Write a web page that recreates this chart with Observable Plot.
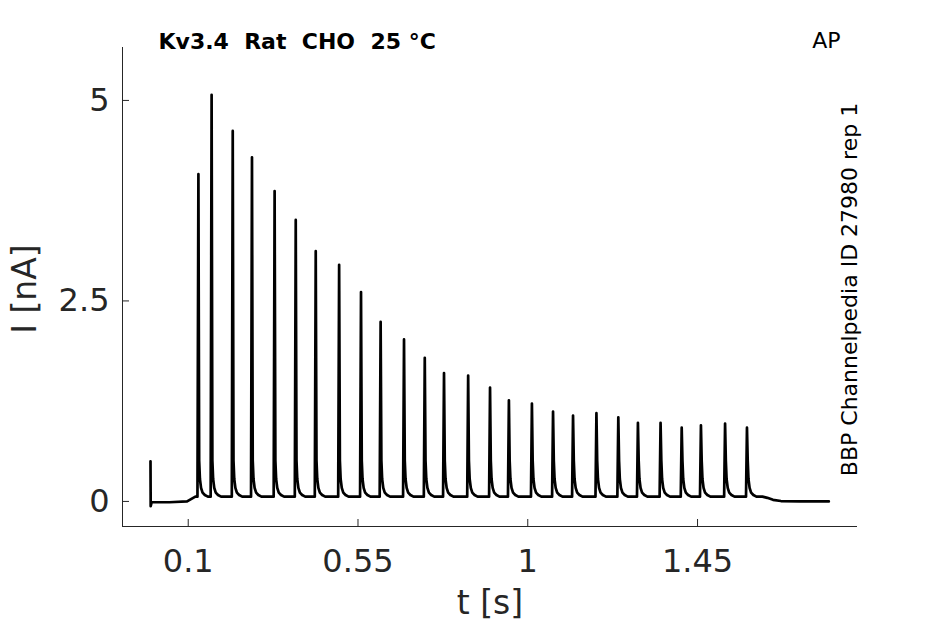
<!DOCTYPE html>
<html>
<head>
<meta charset="utf-8">
<script src="https://cdn.jsdelivr.net/npm/d3@7"></script>
<script src="https://cdn.jsdelivr.net/npm/@observablehq/plot@0.6"></script>
<style>
  html, body { margin: 0; padding: 0; background: #fff; }
  #chart { width: 945px; height: 624px; }
</style>
</head>
<body>
<div id="chart"></div>
<script>
// ---- data ----
const spikeT = [0.127, 0.162, 0.218, 0.269, 0.329, 0.385, 0.438, 0.500, 0.558, 0.610,
                0.672, 0.727, 0.778, 0.842, 0.900, 0.950, 1.011, 1.067, 1.120, 1.182,
                1.240, 1.292, 1.352, 1.408, 1.459, 1.523, 1.581];
const spikePeak = [4.08, 5.07, 4.62, 4.29, 3.87, 3.51, 3.12, 2.95, 2.61, 2.24,
                   2.02, 1.79, 1.60, 1.57, 1.42, 1.26, 1.22, 1.12, 1.07, 1.10,
                   1.05, 0.98, 0.98, 0.92, 0.95, 0.97, 0.92];
const trainBaseline = 0.06;
// decay tail after each spike peak (time after peak, current above baseline)
const tailDt = [0.002, 0.004, 0.007, 0.011, 0.017, 0.025];
const tailI  = [0.45, 0.22, 0.11, 0.05, 0.02, 0.0];
const riseDt = -0.0025;
// trace before the spike train
const preT = [0, 0.0005, 0.003, 0.05, 0.097, 0.119];
const preI = [0.5, -0.06, -0.01, -0.01, 0.0, 0.06];
// trace after the spike train
const postT = [1.622, 1.635, 1.65, 1.671, 1.72, 1.798];
const postI = [0.06, 0.045, 0.02, 0.005, 0.0, 0.0];

const xTicks = [0.1, 0.55, 1, 1.45];
const yTicks = [0, 2.5, 5];
const xDomain = [-0.0742, 1.874];
const yDomain = [-0.3125, 5.66];

const titleText = "Kv3.4  Rat  CHO  25 °C";
const protocolText = "AP";
const sideText = "BBP Channelpedia ID 27980 rep 1";
const xLabel = "t [s]";
const yLabel = "I [nA]";

// ---- build trace ----
const trace = [];
preT.forEach((t, k) => trace.push({t, i: preI[k]}));
spikeT.forEach((t, k) => {
  trace.push({t: t + riseDt, i: trainBaseline});
  trace.push({t, i: spikePeak[k]});
  tailDt.forEach((d, j) => trace.push({t: t + d, i: trainBaseline + tailI[j]}));
});
postT.forEach((t, k) => trace.push({t, i: postI[k]}));

const font = "DejaVu Sans, sans-serif";
const ink = "#262626";

const chart = Plot.plot({
  width: 945,
  height: 624,
  marginLeft: 122,
  marginRight: 88,
  marginTop: 47,
  marginBottom: 98,
  style: {fontFamily: font, color: ink, background: "#fff"},
  x: {domain: xDomain},
  y: {domain: yDomain},
  marks: [
    Plot.ruleY([yDomain[0]], {stroke: ink, strokeWidth: 1}),
    Plot.ruleX([xDomain[0]], {stroke: ink, strokeWidth: 1}),
    Plot.axisX({ticks: xTicks, tickFormat: d => String(d), tickSize: -7, tickPadding: 30,
                fontSize: 32, label: null, stroke: ink}),
    Plot.axisY({ticks: yTicks, tickFormat: d => String(d), tickSize: -7, tickPadding: 20,
                fontSize: 32, label: null, stroke: ink}),
    Plot.line(trace, {x: "t", y: "i", stroke: "black", strokeWidth: 2.7,
                      strokeLinejoin: "round", strokeLinecap: "round"}),
    Plot.text([xLabel], {frameAnchor: "bottom", dy: 87, lineAnchor: "bottom",
                         textAnchor: "middle", fontSize: 33, fill: ink}),
    Plot.text([yLabel], {frameAnchor: "left", dx: -87, dy: 2, rotate: -90,
                         lineAnchor: "bottom", textAnchor: "middle", fontSize: 33, fill: ink}),
    Plot.text([titleText], {frameAnchor: "top-left", dx: 36, dy: 1, lineAnchor: "bottom",
                            textAnchor: "start", fontSize: 22, fontWeight: "bold", fill: "black"}),
    Plot.text([protocolText], {frameAnchor: "top-right", dx: -17, dy: 0, lineAnchor: "bottom",
                               textAnchor: "end", fontSize: 22, fill: "black"}),
    Plot.text([sideText], {frameAnchor: "right", dx: -1, dy: 2.5, rotate: -90,
                           lineAnchor: "bottom", textAnchor: "middle", fontSize: 22, fill: "black"})
  ]
});
document.getElementById("chart").appendChild(chart);
</script>
</body>
</html>
